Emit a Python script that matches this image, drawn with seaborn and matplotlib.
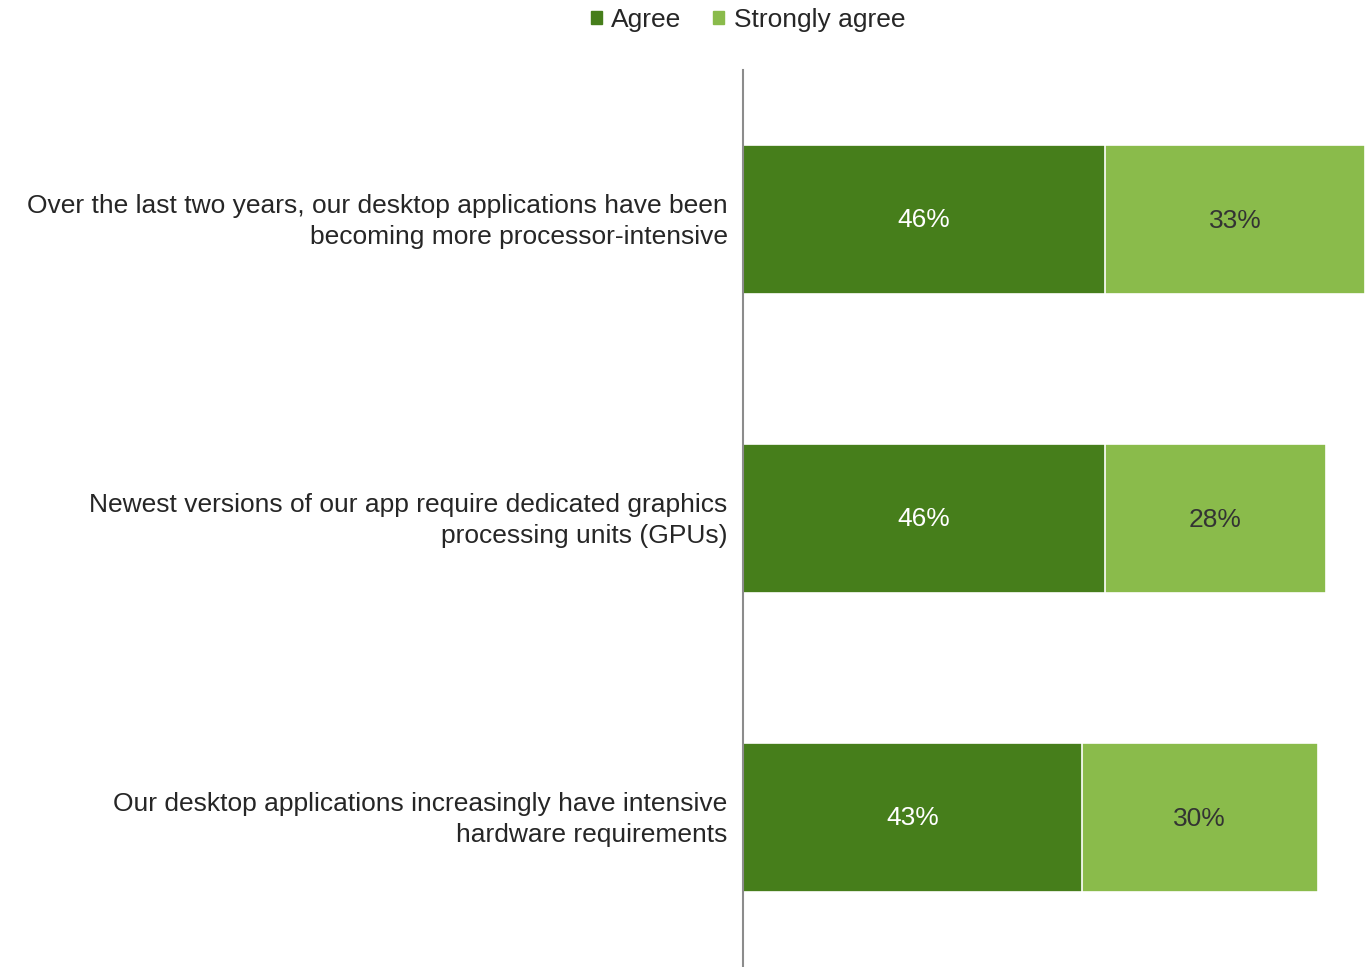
import numpy as np
import pandas as pd
import matplotlib.pyplot as plt
import matplotlib.transforms as mtransforms
import seaborn as sns
from matplotlib.patches import Patch

statements = ['Over the last two years, our desktop applications have been\nbecoming more processor-intensive',
              'Newest versions of our app require dedicated graphics\nprocessing units (GPUs)',
              'Our desktop applications increasingly have intensive\nhardware requirements']
agree = [46, 46, 43]
strongly_agree = [33, 28, 30]

dark_green = '#467E1B'
light_green = '#8ABB4B'
text_col = '#262626'
fs = 19

sns.set_style('white')
plt.rcParams['font.family'] = ['Liberation Sans', 'DejaVu Sans']

df = pd.DataFrame({'Statement': statements, 'Agree': agree, 'Strongly agree': strongly_agree})
df['Total'] = df['Agree'] + df['Strongly agree']

fig = plt.figure(figsize=(13.71, 9.67), dpi=100)
ax = fig.add_axes([743/1371, 0, 622/1371, 1 - 70/967])

# total bar first, agree drawn over it
sns.barplot(data=df, x='Total', y='Statement', color=light_green, width=0.5,
            edgecolor='white', linewidth=1.2, saturation=1, ax=ax)
sns.barplot(data=df, x='Agree', y='Statement', color=dark_green, width=0.5,
            edgecolor='white', linewidth=1.2, saturation=1, ax=ax)

bars_total = ax.containers[0]
bars_agree = ax.containers[1]
for bar, a, s in zip(bars_total, agree, strongly_agree):
    ax.text(a + s / 2, bar.get_y() + bar.get_height() / 2 + 0.005, f'{s}%',
            ha='center', va='center', fontsize=fs, color='#333333')
ax.bar_label(bars_agree, labels=[f'{v}%' for v in agree], label_type='center',
             fontsize=fs, color='white')

ax.set_xlim(0, 79)
ax.set_ylim(2.5, -0.5)
ax.set_xlabel('')
ax.set_ylabel('')
ax.set_xticks([])
ax.tick_params(axis='y', length=0, pad=11, labelsize=fs, labelcolor=text_col)
shift_up = mtransforms.ScaledTranslation(0, 4 / 100, fig.dpi_scale_trans)
for lbl in ax.get_yticklabels():
    lbl.set_horizontalalignment('right')
    lbl.set_multialignment('right')
    lbl.set_linespacing(1.38)
    lbl.set_transform(lbl.get_transform() + shift_up)

for side in ['top', 'right', 'bottom']:
    ax.spines[side].set_visible(False)
ax.spines['left'].set_color('#8c8c8c')
ax.spines['left'].set_linewidth(1.5)

handles = [Patch(color=dark_green, label='Agree'), Patch(color=light_green, label='Strongly agree')]
fig.legend(handles=handles, loc='center', bbox_to_anchor=(748/1371, 1 - 20/967), ncol=2,
           frameon=False, fontsize=fs, handlelength=0.42, handleheight=0.42,
           handletextpad=0.35, columnspacing=1.2, labelcolor=text_col)

fig.savefig('out.png', dpi=100)
